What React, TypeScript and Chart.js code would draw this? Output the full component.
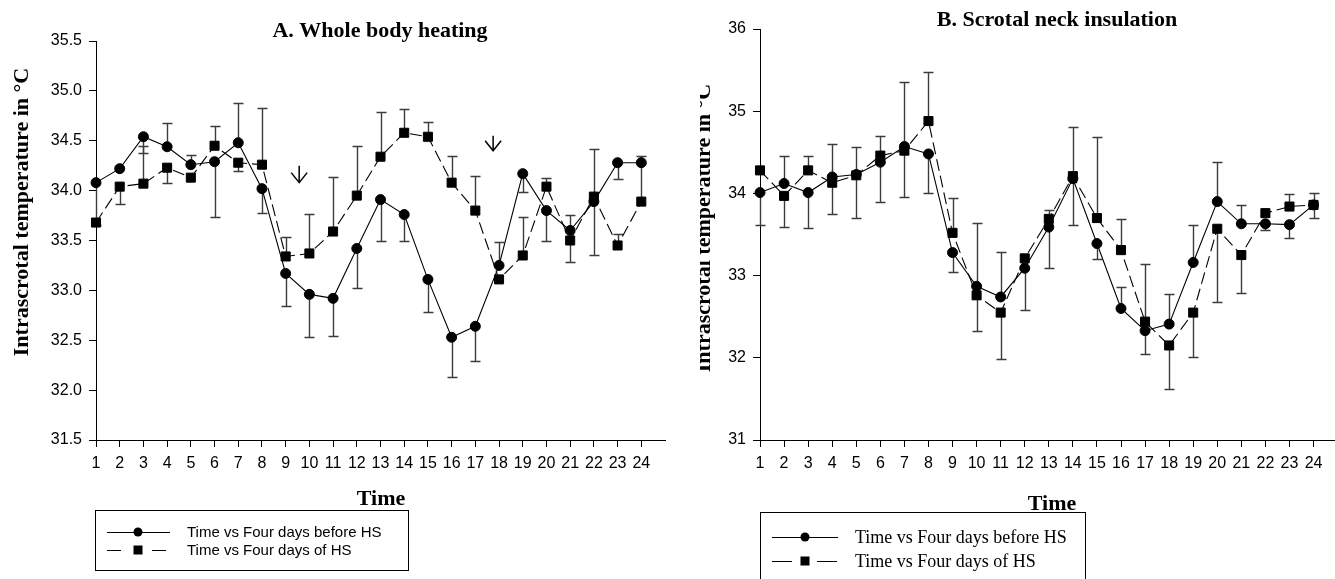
import React, { useEffect, useRef } from 'react';
import { Chart, registerables } from 'chart.js';

Chart.register(...registerables);

// Hour of day (x axis)
const hours = [1, 2, 3, 4, 5, 6, 7, 8, 9, 10, 11, 12, 13, 14, 15, 16, 17, 18, 19, 20, 21, 22, 23, 24];

const seriesLabels = ['Time vs Four days before HS', 'Time vs Four days of HS'];
const yAxisTitle = 'Intrascrotal temperature in °C';
const xAxisTitle = 'Time';

// A. Whole body heating — mean intrascrotal temperature (°C)
const wholeBefore = [34.08, 34.22, 34.54, 34.44, 34.26, 34.29, 34.48, 34.02, 33.17, 32.96, 32.92, 33.42, 33.91, 33.76, 33.11, 32.53, 32.64, 33.25, 34.17, 33.80, 33.60, 33.89, 34.28, 34.28];
// one-sided error bars: positive = drawn upwards, negative = downwards
const wholeBeforeErr = [-0.42, 0, -0.16, 0.24, 0.10, -0.55, 0.40, -0.24, -0.33, -0.43, -0.38, -0.40, -0.42, -0.26, -0.33, -0.40, -0.35, 0.23, -0.18, -0.30, 0.16, -0.54, -0.16, 0.07];
const wholeHS = [33.68, 34.04, 34.07, 34.23, 34.13, 34.45, 34.28, 34.26, 33.34, 33.37, 33.59, 33.95, 34.34, 34.58, 34.54, 34.08, 33.80, 33.11, 33.35, 34.04, 33.50, 33.94, 33.45, 33.89];
const wholeHSErr = [0, -0.17, 0.38, -0.15, 0, 0.20, -0.08, 0.57, 0.20, 0.40, 0.55, 0.50, 0.45, 0.24, 0.15, 0.27, 0.35, 0, 0.39, 0.09, -0.22, 0.48, 0.12, 0.39];
const wholeTicks = [31.5, 32.0, 32.5, 33.0, 33.5, 34.0, 34.5, 35.0, 35.5];
// heat-stress arrows: hour position and the temperature span of the arrow
const wholeArrowHours = [9.57, 17.75];
const wholeArrowTop = [34.25, 34.55];
const wholeArrowBottom = [34.08, 34.40];

// B. Scrotal neck insulation
const neckBefore = [34.01, 34.12, 34.01, 34.20, 34.23, 34.38, 34.57, 34.48, 33.28, 32.87, 32.74, 33.09, 33.59, 34.18, 33.39, 32.60, 32.33, 32.41, 33.16, 33.90, 33.63, 33.63, 33.62, 33.86];
const neckBeforeErr = [-0.40, 0.33, -0.43, 0.40, -0.53, -0.49, 0.79, -0.47, -0.24, 0.77, 0.55, -0.51, -0.50, -0.57, -0.19, 0.26, -0.28, 0.37, 0.46, 0.48, 0.23, -0.07, -0.16, -0.16];
const neckHS = [34.28, 33.97, 34.28, 34.13, 34.22, 34.46, 34.52, 34.88, 33.52, 32.76, 32.55, 33.21, 33.69, 34.21, 33.70, 33.31, 32.44, 32.15, 32.55, 33.57, 33.25, 33.76, 33.84, 33.86];
const neckHSErr = [0, -0.38, 0.17, -0.38, 0.35, 0.24, -0.56, 0.60, 0.42, -0.44, -0.56, 0, 0.11, 0.60, 0.99, 0.38, 0.70, -0.53, -0.54, -0.89, -0.46, 0, 0.15, 0.14];
const neckTicks = [31, 32, 33, 34, 35, 36];

const SERIF = '"Liberation Serif", "Times New Roman", serif';
const SANS = '"Liberation Sans", Arial, sans-serif';

type Layout = {
  canvasLeft: number;
  canvasWidth: number;
  padTop: number;
  padRight: number;
  yAxisWidth: number;
  decimals: number;
  titleX: number;
  titleY: number;
  timeX: number;
  timeY: number;
  yLabelX: number;
  yLabelY: number;
  legend: {
    x: number; y: number; w: number; h: number;
    rows: number[]; lineL: number; lineR: number; marker: number;
    dashA: [number, number]; dashB: [number, number];
    textX: number; font: string;
  };
};

type Panel = {
  title: string;
  before: number[];
  beforeErr: number[];
  hs: number[];
  hsErr: number[];
  ticks: number[];
  arrowHours: number[];
  arrowTop: number[];
  arrowBottom: number[];
  layout: Layout;
};

const panelA: Panel = {
  title: 'A. Whole body heating',
  before: wholeBefore,
  beforeErr: wholeBeforeErr,
  hs: wholeHS,
  hsErr: wholeHSErr,
  ticks: wholeTicks,
  arrowHours: wholeArrowHours,
  arrowTop: wholeArrowTop,
  arrowBottom: wholeArrowBottom,
  layout: {
    canvasLeft: 0,
    canvasWidth: 700,
    padTop: 41,
    padRight: 35,
    yAxisWidth: 96,
    decimals: 1,
    titleX: 380,
    titleY: 37,
    timeX: 381,
    timeY: 505,
    yLabelX: 28,
    yLabelY: 212,
    legend: {
      x: 95, y: 510, w: 313, h: 60,
      rows: [532, 550], lineL: 107, lineR: 170, marker: 138,
      dashA: [107, 121], dashB: [152, 166],
      textX: 187, font: `15px ${SANS}`,
    },
  },
};

const panelB: Panel = {
  title: 'B. Scrotal neck insulation',
  before: neckBefore,
  beforeErr: neckBeforeErr,
  hs: neckHS,
  hsErr: neckHSErr,
  ticks: neckTicks,
  arrowHours: [],
  arrowTop: [],
  arrowBottom: [],
  layout: {
    canvasLeft: 700,
    canvasWidth: 645,
    padTop: 29,
    padRight: 0,
    yAxisWidth: 60,
    decimals: 0,
    titleX: 357,
    titleY: 26,
    timeX: 352,
    timeY: 510,
    yLabelX: 10,
    yLabelY: 228,
    legend: {
      x: 60, y: 512, w: 325, h: 100,
      rows: [537, 561], lineL: 72, lineR: 138, marker: 105,
      dashA: [72, 92], dashB: [117, 137],
      textX: 155, font: `18px ${SERIF}`,
    },
  },
};

const CANVAS_H = 579;
const AXIS_BOTTOM = 440;
const X_AXIS_H = 30;

function makePlugin(panel: Panel) {
  const L = panel.layout;
  const errSets = [panel.beforeErr, panel.hsErr];
  return {
    id: 'panelDecor',
    beforeDatasetsDraw(chart: any) {
      const ctx = chart.ctx as CanvasRenderingContext2D;
      const xs = chart.scales.x;
      const ys = chart.scales.y;
      ctx.save();
      ctx.strokeStyle = '#3c3c3c';
      ctx.lineWidth = 1.4;
      chart.data.datasets.forEach((ds: any, i: number) => {
        const errs = errSets[i];
        ds.data.forEach((p: { x: number; y: number }, j: number) => {
          const e = errs[j];
          if (!e) return;
          const px = Math.round(xs.getPixelForValue(p.x)) + 0.5;
          const y0 = ys.getPixelForValue(p.y);
          const y1 = Math.round(ys.getPixelForValue(p.y + e)) + 0.5;
          ctx.beginPath();
          ctx.moveTo(px, y0);
          ctx.lineTo(px, y1);
          ctx.moveTo(px - 5, y1);
          ctx.lineTo(px + 5, y1);
          ctx.stroke();
        });
      });
      ctx.restore();
    },
    afterDraw(chart: any) {
      const ctx = chart.ctx as CanvasRenderingContext2D;
      const xs = chart.scales.x;
      const ys = chart.scales.y;
      ctx.save();
      ctx.fillStyle = '#000';
      ctx.strokeStyle = '#000';

      // panel title and axis titles
      ctx.font = `bold 22px ${SERIF}`;
      ctx.textAlign = 'center';
      ctx.textBaseline = 'alphabetic';
      ctx.fillText(panel.title, L.titleX, L.titleY);
      ctx.fillText(xAxisTitle, L.timeX, L.timeY);
      ctx.save();
      ctx.translate(L.yLabelX, L.yLabelY);
      ctx.rotate(-Math.PI / 2);
      ctx.fillText(yAxisTitle, 0, 0);
      ctx.restore();

      // heat-stress arrows
      ctx.lineWidth = 1.5;
      panel.arrowHours.forEach((h, k) => {
        const ax = xs.getPixelForValue(h);
        const top = ys.getPixelForValue(panel.arrowTop[k]);
        const tip = ys.getPixelForValue(panel.arrowBottom[k]);
        ctx.beginPath();
        ctx.moveTo(ax, top);
        ctx.lineTo(ax, tip);
        ctx.moveTo(ax - 8, tip - 10);
        ctx.lineTo(ax, tip);
        ctx.lineTo(ax + 8, tip - 10);
        ctx.stroke();
      });

      // legend box
      const lg = L.legend;
      ctx.lineWidth = 1;
      ctx.strokeRect(lg.x + 0.5, lg.y + 0.5, lg.w, lg.h);
      ctx.font = lg.font;
      ctx.textAlign = 'left';
      ctx.textBaseline = 'middle';
      lg.rows.forEach((ry, k) => {
        const y = ry + 0.5;
        ctx.beginPath();
        if (k === 0) {
          ctx.moveTo(lg.lineL, y);
          ctx.lineTo(lg.lineR, y);
          ctx.stroke();
          ctx.beginPath();
          ctx.arc(lg.marker, ry, 4.5, 0, Math.PI * 2);
          ctx.fill();
        } else {
          ctx.moveTo(lg.dashA[0], y);
          ctx.lineTo(lg.dashA[1], y);
          ctx.moveTo(lg.dashB[0], y);
          ctx.lineTo(lg.dashB[1], y);
          ctx.stroke();
          ctx.fillRect(lg.marker - 4.5, ry - 4.5, 9, 9);
        }
        ctx.fillText(seriesLabels[k], lg.textX, ry + 1);
      });
      ctx.restore();
    },
  };
}

function buildConfig(panel: Panel): any {
  const L = panel.layout;
  const toPoints = (vals: number[]) => hours.map((h, i) => ({ x: h, y: vals[i] }));
  const yMin = panel.ticks[0];
  const yMax = panel.ticks[panel.ticks.length - 1];
  const yStep = panel.ticks[1] - panel.ticks[0];
  return {
    type: 'line',
    data: {
      datasets: [
        {
          label: seriesLabels[0],
          data: toPoints(panel.before),
          borderColor: '#000',
          borderWidth: 1.1,
          pointStyle: 'circle',
          pointRadius: 5,
          pointBackgroundColor: '#000',
          pointBorderColor: '#000',
          pointBorderWidth: 1,
          tension: 0,
          clip: false,
        },
        {
          label: seriesLabels[1],
          data: toPoints(panel.hs),
          borderColor: '#000',
          borderWidth: 1.1,
          borderDash: [12, 5],
          pointStyle: 'rect',
          pointRadius: 6.4,
          pointBackgroundColor: '#000',
          pointBorderColor: '#000',
          pointBorderWidth: 1,
          tension: 0,
          clip: false,
        },
      ],
    },
    options: {
      responsive: false,
      animation: false,
      events: [],
      layout: {
        padding: {
          top: L.padTop,
          right: L.padRight,
          left: 0,
          bottom: CANVAS_H - AXIS_BOTTOM - X_AXIS_H,
        },
      },
      plugins: {
        legend: { display: false },
        tooltip: { enabled: false },
        title: { display: false },
      },
      scales: {
        x: {
          type: 'linear',
          min: 1,
          max: 25,
          afterBuildTicks: (axis: any) => {
            axis.ticks = axis.ticks.filter((t: any) => t.value <= hours[hours.length - 1]);
          },
          afterFit: (axis: any) => {
            axis.height = X_AXIS_H;
          },
          ticks: {
            stepSize: 1,
            autoSkip: false,
            maxRotation: 0,
            padding: 7,
            color: '#000',
            font: { family: SANS, size: 16 },
            callback: (v: number) => String(v),
          },
          grid: { drawOnChartArea: false, drawTicks: true, tickLength: 7, color: '#000', tickColor: '#000' },
          border: { display: true, color: '#000', width: 1 },
        },
        y: {
          type: 'linear',
          min: yMin,
          max: yMax,
          afterBuildTicks: (axis: any) => {
            axis.ticks = panel.ticks.map((v) => ({ value: v }));
          },
          afterFit: (axis: any) => {
            axis.width = L.yAxisWidth;
          },
          ticks: {
            stepSize: yStep,
            padding: 7,
            color: '#000',
            font: { family: SANS, size: 16 },
            callback: (v: number) => Number(v).toFixed(L.decimals),
          },
          grid: { drawOnChartArea: false, drawTicks: true, tickLength: 7, color: '#000', tickColor: '#000' },
          border: { display: true, color: '#000', width: 1 },
        },
      },
    },
    plugins: [makePlugin(panel)],
  };
}

function PanelChart({ panel }: { panel: Panel }) {
  const ref = useRef<HTMLCanvasElement>(null);
  const L = panel.layout;
  useEffect(() => {
    if (!ref.current) return;
    const chart = new Chart(ref.current, buildConfig(panel));
    return () => chart.destroy();
  }, [panel]);
  return (
    <canvas
      ref={ref}
      width={L.canvasWidth}
      height={CANVAS_H}
      style={{ position: 'absolute', left: L.canvasLeft, top: 0, width: L.canvasWidth, height: CANVAS_H }}
    />
  );
}

export default function App() {
  return (
    <div
      style={{
        position: 'fixed',
        left: 0,
        top: 0,
        width: 1335,
        height: 579,
        overflow: 'hidden',
        background: '#fff',
      }}
    >
      <PanelChart panel={panelA} />
      <PanelChart panel={panelB} />
    </div>
  );
}
